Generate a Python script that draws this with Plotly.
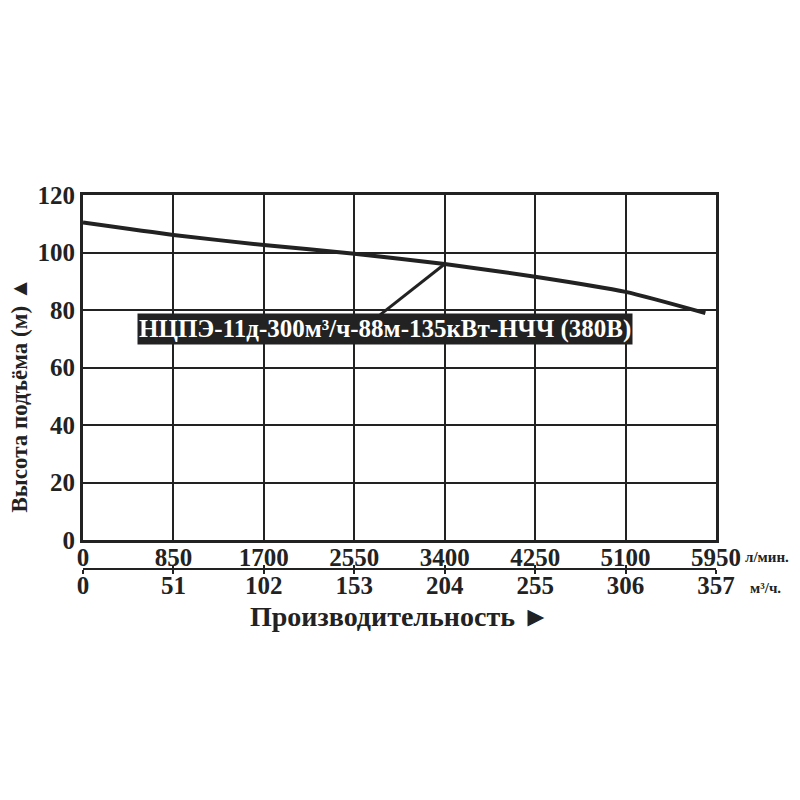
import plotly.graph_objects as go

# напорная характеристика насоса
flow_lpm = [0, 850, 1700, 2550, 3400, 4250, 5100, 5850]
head_m = [110.4, 106.1, 102.6, 99.6, 96.0, 91.6, 86.3, 78.9]

lpm_ticks = [0, 850, 1700, 2550, 3400, 4250, 5100, 5950]
m3h_ticks = [0, 51, 102, 153, 204, 255, 306, 357]
head_ticks = [0, 20, 40, 60, 80, 100, 120]

model_name = "НЦПЭ-11д-300м³/ч-88м-135кВт-НЧЧ (380В)"
label_pos = (2834, 73.4)
leader_from = (2792, 78.3)
leader_to = (3400, 96.0)

ink = "#222222"
serif = "Liberation Serif"

fig = go.Figure()
fig.add_trace(go.Scatter(x=flow_lpm, y=head_m, mode="lines",
                         line=dict(color=ink, width=4, shape="spline", smoothing=0.6),
                         hoverinfo="skip", showlegend=False))
# пустая трасса для второй шкалы (м³/ч)
fig.add_trace(go.Scatter(x=[0, 357], y=[None, None], xaxis="x2", yaxis="y2",
                         showlegend=False, hoverinfo="skip"))

tick_font = dict(family=serif, size=25, color=ink, weight="bold")

fig.update_layout(
    width=800, height=800,
    margin=dict(l=75, r=92, t=187, b=238),
    paper_bgcolor="white", plot_bgcolor="white",
    showlegend=False,
    xaxis=dict(range=[0, 5950], tickvals=lpm_ticks, ticktext=[str(v) for v in lpm_ticks],
               showgrid=True, gridcolor=ink, gridwidth=2,
               showline=True, linecolor=ink, linewidth=3, mirror=True,
               ticks="", tickfont=tick_font, zeroline=False, anchor="y",
               ticklabelstandoff=-7),
    yaxis=dict(range=[0, 120], tickvals=head_ticks, domain=[0.08, 1],
               showgrid=True, gridcolor=ink, gridwidth=2,
               showline=True, linecolor=ink, linewidth=3, mirror=True,
               ticks="", tickfont=tick_font, zeroline=False),
    xaxis2=dict(range=[0, 357], tickvals=m3h_ticks, ticktext=[str(v) for v in m3h_ticks],
                anchor="y2", side="bottom",
                showgrid=True, gridcolor=ink, gridwidth=2,
                showline=True, linecolor=ink, linewidth=2,
                ticks="outside", ticklen=4, tickwidth=2, tickcolor=ink,
                tickfont=tick_font, zeroline=False, ticklabelstandoff=-10),
    yaxis2=dict(domain=[0.005, 0.014], range=[0, 1], visible=False, anchor="x2"),
)

fig.add_shape(type="line", xref="x", yref="y",
              x0=leader_from[0], y0=leader_from[1], x1=leader_to[0], y1=leader_to[1],
              line=dict(color=ink, width=3))

fig.add_annotation(x=label_pos[0], y=label_pos[1], xref="x", yref="y",
                   text=model_name, showarrow=False, bgcolor=ink, borderpad=1,
                   font=dict(family=serif, size=25, color="white", weight="bold"))

fig.add_annotation(x=1.042, y=0.035, xref="paper", yref="paper",
                   text="л/мин.", showarrow=False, xanchor="left", yanchor="middle",
                   font=dict(family=serif, size=15, color=ink, weight="bold"))
fig.add_annotation(x=1.051, y=-0.048, xref="paper", yref="paper",
                   text="м³/ч.", showarrow=False, xanchor="left", yanchor="middle",
                   font=dict(family=serif, size=15, color=ink, weight="bold"))

fig.add_annotation(x=0.5, y=-0.124, xref="paper", yref="paper",
                   text="Производительность ►", showarrow=False,
                   xanchor="center", yanchor="middle",
                   font=dict(family=serif, size=28, color=ink, weight="bold"))
fig.add_annotation(x=-0.1, y=0.467, xref="paper", yref="paper",
                   text="Высота подъёма (м) ▲", showarrow=False, textangle=-90,
                   xanchor="center", yanchor="middle",
                   font=dict(family=serif, size=23, color=ink, weight="bold"))

fig.write_html("out.html")
